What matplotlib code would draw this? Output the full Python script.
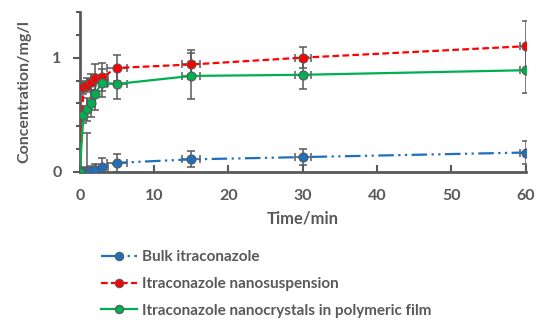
import numpy as np
import matplotlib.pyplot as plt
from matplotlib.lines import Line2D

# données
t = [0, 0.5, 1, 1.5, 2, 3, 5, 15, 30, 60]
t_err = [0, 0.5, 0.5, 0.5, 0.5, 0.8, 1.3, 1.2, 1.1, 0.8]

bulk = [0, 0.0, 0.01, 0.01, 0.02, 0.04, 0.08, 0.11, 0.13, 0.17]
bulk_err = [0, 0.04, 0.33, 0.04, 0.05, 0.08, 0.08, 0.07, 0.07, 0.1]

nanosusp = [0, 0.74, 0.76, 0.79, 0.82, 0.83, 0.91, 0.94, 1.0, 1.1]
nanosusp_err = [0, 0.06, 0.06, 0.07, 0.12, 0.12, 0.11, 0.13, 0.09, 0.22]

film = [0, 0.5, 0.55, 0.6, 0.68, 0.78, 0.77, 0.84, 0.85, 0.89]
film_err = [0, 0.07, 0.1, 0.12, 0.14, 0.12, 0.13, 0.2, 0.12, 0.2]

labels = ["Bulk itraconazole", "Itraconazole nanosuspension",
          "Itraconazole nanocrystals in polymeric film"]

gris = "#595959"
plt.rcParams['font.family'] = ['Lato', 'DejaVu Sans']

fig = plt.figure(figsize=(5.5, 3.22), dpi=100)
ax = fig.add_axes([0.145, 0.466, 0.811, 0.497])

series = [
    (bulk, bulk_err, "#1f6fbf", (0, (7, 2, 1, 2, 1, 2))),
    (nanosusp, nanosusp_err, "#ff0000", (0, (3, 1.5))),
    (film, film_err, "#00b050", "-"),
]

for y, yerr, col, ls in series:
    ax.errorbar(t, y, yerr=yerr, xerr=t_err, fmt="none", ecolor=gris,
                elinewidth=1.1, capsize=3, capthick=1.1, zorder=2)
    ax.plot(t, y, color=col, linestyle=ls, linewidth=1.6, zorder=3)
    ax.plot(t, y, "o", color=col, markersize=6.5, markeredgecolor=gris,
            markeredgewidth=0.8, zorder=4)

ax.set_xlim(0, 60)
ax.set_ylim(0, 1.4)
ax.set_xticks(np.arange(0, 61, 10))
ax.set_yticks([0, 1])
ax.set_yticks(np.arange(0, 1.41, 0.2), minor=True)

for s in ["top", "right"]:
    ax.spines[s].set_visible(False)
for s in ["left", "bottom"]:
    ax.spines[s].set_color(gris)
    ax.spines[s].set_linewidth(2)

ax.tick_params(axis="x", direction="in", length=5, width=1.5, color=gris,
               labelcolor=gris, labelsize=11.5, pad=12)
ax.tick_params(axis="y", which="both", direction="out", width=1.5, color=gris,
               labelcolor=gris, labelsize=11.5, pad=8)
ax.tick_params(axis="y", which="major", length=5)
ax.tick_params(axis="y", which="minor", length=3)
for lab in ax.get_xticklabels() + ax.get_yticklabels():
    lab.set_fontweight("bold")

ax.set_xlabel("Time/min", color=gris, fontsize=12, fontweight="bold", labelpad=6)
ax.set_ylabel("Concentration/mg/l", color=gris, fontsize=11.5, fontweight="bold",
              labelpad=15)

handles = []
for (y, yerr, col, ls), lab in zip(series, labels):
    handles.append(Line2D([0], [0], color=col, linestyle=ls, linewidth=1.6,
                          marker="o", markersize=6, markeredgecolor=gris,
                          markeredgewidth=0.8, label=lab))
leg = fig.legend(handles=handles, loc="upper left", bbox_to_anchor=(0.172, 0.243),
                 frameon=False, fontsize=11, handlelength=2.4, handletextpad=0.3,
                 labelspacing=0.85, borderaxespad=0)
for txt in leg.get_texts():
    txt.set_color(gris)
    txt.set_fontweight("bold")

plt.savefig("out.png", dpi=100)
